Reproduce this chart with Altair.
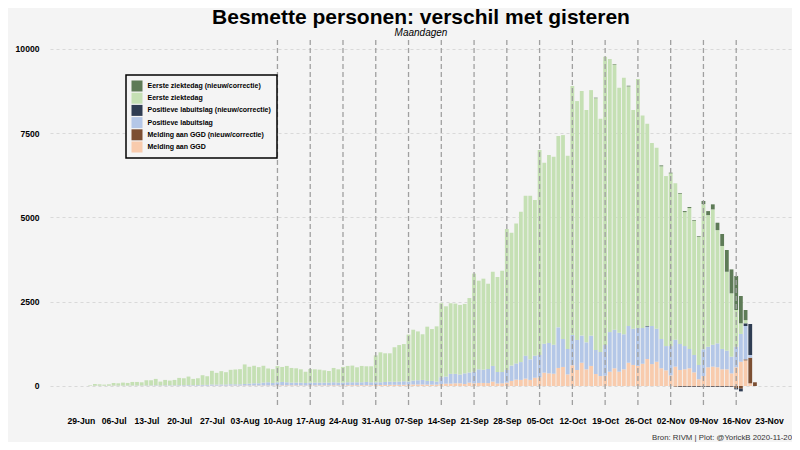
import altair as alt
import pandas as pd

F = "Liberation Sans, Arial, sans-serif"

# ---- data (1 Jul 2020 .. 20 Nov 2020) ----
dates = pd.date_range("2020-07-01", "2020-11-20", freq="D")

green_jul = [15,52,42,32,42,78,68,88,78,105,105,95,153,153,189,113,159,139,159,215,205,252,185,202,287,257,405,350,395,365,428]
green_aug = [440,450,580,500,520,480,500,410,410,480,445,485,435,425,395,335,405,395,385,365,345,425,395,465,485,495,445,485,465,475,800]
green_sep = [890,850,840,1025,1085,1105,1395,1510,1450,1355,1610,1540,1640,2195,2085,2095,2085,2065,2060,2210,2910,2630,2700,2530,2795,2820,3005,4185,3945,4155]
green_oct = [4460,4745,4855,4620,6080,5370,5580,5580,5680,6050,5735,7385,7090,7260,6895,7285,7470,6920,8555,8100,7870,7270,7615,7110,6490,7390,6310,6005,5430,5370,5125]
green_nov = [5045,5125,4640,4460,3975,4180,3985,3805,4310,3905,4015,3360,3055,2340,1880,1090,315,95,0,0]
eerste_ziektedag = green_jul + green_aug + green_sep + green_oct + green_nov

gnew_oct = [0]*16 + [15] + [0]*3 + [15] + [0]*2 + [20] + [0]*6 + [25]
gnew_nov = [0,20,0,20,30,30,20,20,90,120,150,220,355,645,710,1010,810,300,0,0]
eerste_ziektedag_nieuw = [0]*92 + gnew_oct + gnew_nov

blue_jul = [3,5,5,5,5,8,8,8,8,10,10,10,12,12,15,12,15,15,15,18,18,20,18,20,25,25,35,30,35,35,40]
blue_aug = [38,38,46,56,65,65,84,94,75,90,100,90,80,80,82,72,80,80,80,80,80,88,80,78,85,85,85,85,95,85,80]
blue_sep = [80,88,95,90,95,105,90,115,125,135,110,110,90,200,210,290,280,260,315,300,345,405,395,420,465,340,335,375,455,480]
blue_oct = [530,680,610,655,665,860,900,860,1205,830,755,900,890,805,800,900,715,715,910,1175,1145,1155,1040,1090,1075,1125,1060,965,1130,980,870]
blue_nov = [720,870,800,770,690,575,515,425,795,610,650,710,605,555,495,610,825,990,80,0]
positieve_labuitslag = blue_jul + blue_aug + blue_sep + blue_oct + blue_nov

navy_oct = [0]*27 + [15] + [0]*3
navy_nov = [0,0,0,-15,-15,-15,-15,-15,-15,-15,-15,-15,-15,-15,-15,-40,-80,80,920,0]
positieve_labuitslag_nieuw = [0]*92 + navy_oct + navy_nov

peach_jul = [2,3,3,3,3,4,4,4,4,5,5,5,5,5,6,5,6,6,6,7,7,8,7,8,8,8,10,10,10,10,12]
peach_aug = [12,12,14,14,15,15,16,16,15,20,20,20,20,20,18,18,20,20,20,20,20,22,20,22,25,25,25,25,25,25,30]
peach_sep = [30,32,35,35,35,35,40,45,45,45,40,40,40,60,70,70,80,80,60,100,80,90,90,85,130,75,80,100,150,190]
peach_oct = [180,220,180,245,255,395,375,365,535,565,345,615,475,690,495,595,355,295,305,425,525,425,495,690,625,595,660,800,650,720,525]
peach_nov = [465,315,575,475,495,525,405,200,295,555,575,555,495,495,375,555,720,760,80,0]
melding_ggd = peach_jul + peach_aug + peach_sep + peach_oct + peach_nov

brown_nov = [0,0,-15,-15,-15,-15,-15,-15,-15,-15,-15,-15,-15,-15,-15,-60,-80,30,760,110]
melding_ggd_nieuw = [0]*123 + brown_nov

names = [
    "Eerste ziektedag (nieuw/correctie)",
    "Eerste ziektedag",
    "Positieve labuitslag (nieuw/correctie)",
    "Positieve labuitslag",
    "Melding aan GGD (nieuw/correctie)",
    "Melding aan GGD",
]
colors = ["#5e7b57", "#c5e0b4", "#2f3d53", "#b4c7e7", "#7c4f33", "#f8cbad"]
series = [
    (names[5], melding_ggd, 0),
    (names[4], melding_ggd_nieuw, 1),
    (names[3], positieve_labuitslag, 2),
    (names[2], positieve_labuitslag_nieuw, 3),
    (names[1], eerste_ziektedag, 4),
    (names[0], eerste_ziektedag_nieuw, 5),
]

rows = []
for i, d in enumerate(dates):
    ds = d.strftime("%Y-%m-%dT00:00:00")
    for name, arr, o in series:
        rows.append({"datum": ds, "reeks": name, "aantal": arr[i], "volgorde": o})
df = pd.DataFrame(rows)

tick_days = [(6, 29), (7, 6), (7, 13), (7, 20), (7, 27), (8, 3), (8, 10), (8, 17), (8, 24), (8, 31),
             (9, 7), (9, 14), (9, 21), (9, 28), (10, 5), (10, 12), (10, 19), (10, 26), (11, 2),
             (11, 9), (11, 16), (11, 23)]
monday_lines = ["2020-08-10", "2020-08-17", "2020-08-24", "2020-08-31", "2020-09-07", "2020-09-14",
                "2020-09-21", "2020-09-28", "2020-10-05", "2020-10-12", "2020-10-19", "2020-10-26",
                "2020-11-02", "2020-11-09", "2020-11-16"]
rules_df = pd.DataFrame({"datum": [m + "T00:00:00" for m in monday_lines]})

caption = "Bron: RIVM | Plot: @YorickB  2020-11-20"
cap_df = pd.DataFrame({"t": [caption]})

xscale = alt.Scale(domain=[alt.DateTime(year=2020, month=6, date=23, hours=11, minutes=30),
                           alt.DateTime(year=2020, month=11, date=26, hours=20, minutes=24)])
xaxis = alt.Axis(values=[alt.DateTime(year=2020, month=m, date=d) for m, d in tick_days],
                 format="%d-%b", title=None, labelOverlap=False, labelFlush=False,
                 labelPadding=11, grid=False, labelSeparation=0)

bars = alt.Chart(df).mark_bar(size=3.8).encode(
    x=alt.X("datum:T", scale=xscale, axis=xaxis),
    y=alt.Y("aantal:Q", stack="zero",
            scale=alt.Scale(domain=[-564, 10267], nice=False, zero=False),
            axis=alt.Axis(values=[0, 2500, 5000, 7500, 10000], format="d", title=None,
                          labelPadding=11, grid=True)),
    color=alt.Color("reeks:N", scale=alt.Scale(domain=names, range=colors),
                    legend=alt.Legend(title=None, orient="none", legendX=76, legendY=35)),
    order=alt.Order("volgorde:Q", sort="ascending"),
)

rules = alt.Chart(rules_df).mark_rule(color="#a0a0a0", strokeDash=[5, 3], strokeWidth=1.3).encode(
    x=alt.X("datum:T", axis=xaxis)
)

cap = alt.Chart(cap_df).mark_text(align="right", baseline="middle", font=F, fontSize=7.8,
                                  color="#333333").encode(
    x=alt.value(742), y=alt.value(398), text="t:N"
)

chart = alt.layer(bars, rules, cap).properties(
    width=742, height=365,
    title=alt.Title("Besmette personen: verschil met gisteren", subtitle="Maandagen",
                    anchor="middle", frame="group", font=F, fontSize=21, fontWeight="bold",
                    color="black", subtitleFont=F, subtitleFontSize=10, subtitleFontStyle="italic",
                    subtitleColor="black", offset=1, subtitlePadding=0),
    background="#f4f4f4",
    padding={"left": 42, "top": 32, "right": 0, "bottom": 37},
    autosize=alt.AutoSizeParams(type="none"),
).configure_view(stroke=None).configure_axis(
    domain=False, ticks=False, tickSize=0, labelFont=F, labelFontWeight="bold", labelFontSize=8.6,
    labelColor="black", gridColor="#d9d9d9", gridDash=[3, 3], gridWidth=1
).configure_axisX(labelOverlap=False).configure_legend(
    symbolType="square", symbolSize=121, symbolStrokeWidth=0, labelFont=F, labelFontSize=7,
    labelFontWeight="bold", labelColor="black", strokeColor="black", strokeWidth=1.5,
    fillColor="#f4f4f4", padding=5.5, rowPadding=1.2, labelOffset=5, labelLimit=300
)

chart.save("out.html", embed_options={"renderer": "svg", "actions": False})
